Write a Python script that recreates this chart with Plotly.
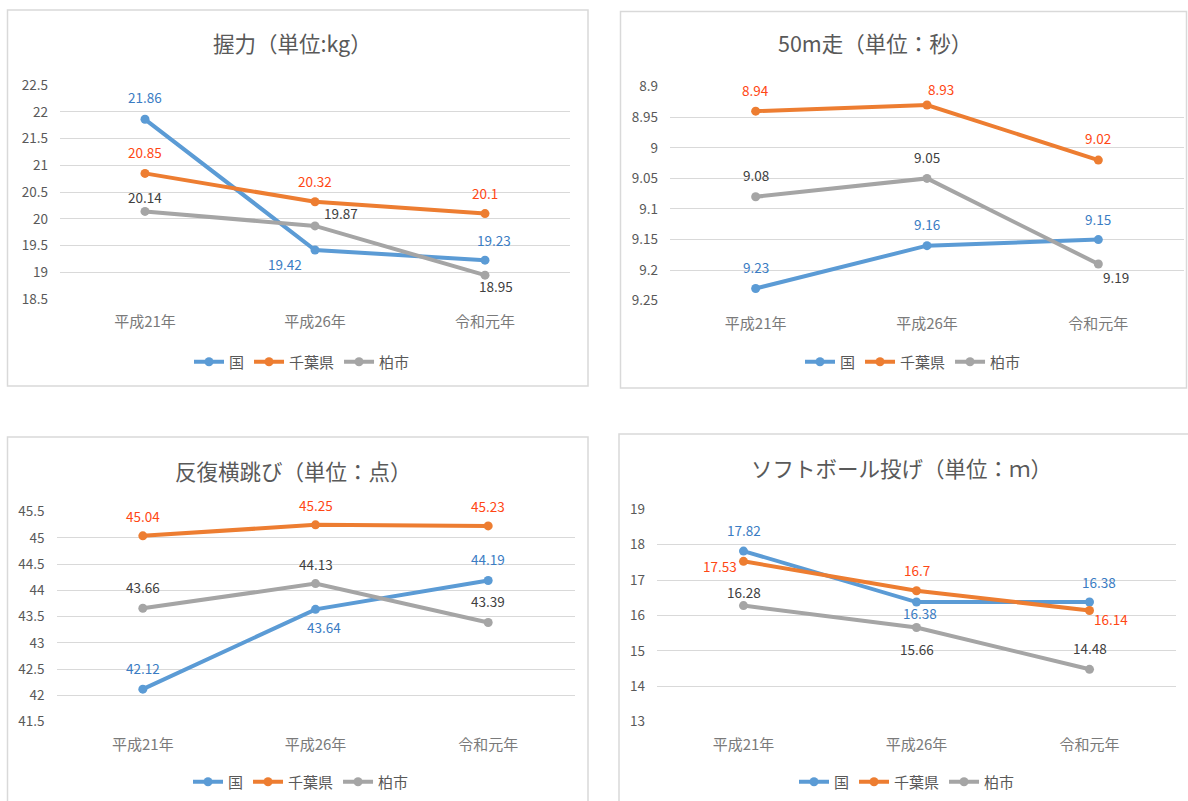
import plotly.graph_objects as go

# ---- data -------------------------------------------------------------
categories = ["平成21年", "平成26年", "令和元年"]
series_names = ["国", "千葉県", "柏市"]

grip_kuni = [21.86, 19.42, 19.23]
grip_chiba = [20.85, 20.32, 20.1]
grip_kashiwa = [20.14, 19.87, 18.95]

run_kuni = [9.23, 9.16, 9.15]
run_chiba = [8.94, 8.93, 9.02]
run_kashiwa = [9.08, 9.05, 9.19]

jump_kuni = [42.12, 43.64, 44.19]
jump_chiba = [45.04, 45.25, 45.23]
jump_kashiwa = [43.66, 44.13, 43.39]

throw_kuni = [17.82, 16.38, 16.38]
throw_chiba = [17.53, 16.7, 16.14]
throw_kashiwa = [16.28, 15.66, 14.48]

grip_ticks = [18.5, 19, 19.5, 20, 20.5, 21, 21.5, 22, 22.5]
run_ticks = [8.9, 8.95, 9, 9.05, 9.1, 9.15, 9.2, 9.25]
jump_ticks = [41.5, 42, 42.5, 43, 43.5, 44, 44.5, 45, 45.5]
throw_ticks = [13, 14, 15, 16, 17, 18, 19]

titles = ["握力（単位:kg）", "50m走（単位：秒）", "反復横跳び（単位：点）", "ソフトボール投げ（単位：ｍ）"]

# ---- styling ----------------------------------------------------------
W, H = 1188, 801
FONT = "Noto Sans CJK JP"
line_colors = ["#5B9BD5", "#ED7D31", "#A5A5A5"]
label_colors = ["#3A7CC3", "#FF4714", "#404040"]
GRID = "#D9D9D9"


def px_x(v):
    return v / W


def px_y(v):
    return 1 - v / H


# per panel: plot box in pixels (left, right, top, bottom), title centre, legend centre, frame
panels = [
    dict(values=[grip_kuni, grip_chiba, grip_kashiwa], ticks=grip_ticks, rev=False,
         box=(60, 570, 85, 299.3), title=(292, 42), legend=(302, 362), frame=(7.5, 588, 10, 386),
         offsets=[[(0, 22), (-30, -14), (9, 20)],
                  [(0, 21), (0, 21), (0, 21)],
                  [(0, 14), (26, 13), (11, -11)]]),
    dict(values=[run_kuni, run_chiba, run_kashiwa], ticks=run_ticks, rev=True,
         box=(670, 1184, 86.7, 300.7), title=(875, 42), legend=(913, 362), frame=(620.5, 1186.5, 11.5, 388),
         offsets=[[(0, 21.5), (0, 21.5), (0, 21)],
                  [(0, 21.5), (14, 16), (0, 22)],
                  [(0, 21.5), (0, 21.5), (18, -13)]]),
    dict(values=[jump_kuni, jump_chiba, jump_kashiwa], ticks=jump_ticks, rev=False,
         box=(56.5, 574.5, 511.7, 721.7), title=(293, 470), legend=(301, 782), frame=(7.5, 588, 437, 806),
         offsets=[[(0, 21), (8, -18), (0, 21)],
                  [(0, 20), (0, 20), (0, 20)],
                  [(0, 21), (0, 20), (0, 21)]]),
    dict(values=[throw_kuni, throw_chiba, throw_kashiwa], ticks=throw_ticks, rev=False,
         box=(657, 1176, 509.3, 721.7), title=(901, 467), legend=(907, 782), frame=(619, 1192, 434, 806),
         offsets=[[(0, 21), (3, -11), (9, 20)],
                  [(-24, -5), (0, 21), (21, -8)],
                  [(0, 13.5), (0, -21), (0, 21)]]),
]

fig = go.Figure()
layout = dict(
    width=W, height=H, autosize=False,
    margin=dict(l=0, r=0, t=0, b=0, pad=0, autoexpand=False),
    paper_bgcolor="white", plot_bgcolor="white",
    font=dict(family=FONT, color="#595959", size=13),
)
annotations = []
shapes = []

for i, p in enumerate(panels):
    n = "" if i == 0 else str(i + 1)
    xa, ya = "x" + n, "y" + n
    leg = "legend" + n
    left, right, top, bottom = p["box"]
    ticks = p["ticks"]

    layout["xaxis" + n] = dict(
        domain=[px_x(left), px_x(right)], anchor=ya, type="category",
        range=[-0.5, 2.5], showgrid=False, zeroline=False, showline=False,
        ticks="", tickfont=dict(size=15, color="#7A7A7A"), ticklabelstandoff=12,
        automargin=False, fixedrange=True,
    )
    lo, hi = min(ticks), max(ticks)
    layout["yaxis" + n] = dict(
        domain=[px_y(bottom), px_y(top)], anchor=xa,
        range=[hi, lo] if p["rev"] else [lo, hi],
        tickvals=ticks, ticktext=[f"{t:g}" for t in ticks],
        showgrid=True, gridcolor=GRID, gridwidth=1.3, zeroline=False,
        showline=False, ticks="", tickfont=dict(size=13.5, color="#595959"),
        ticklabelstandoff=11, automargin=False, fixedrange=True,
    )

    for s, vals in enumerate(p["values"]):
        fig.add_trace(go.Scatter(
            x=categories, y=vals, name=series_names[s], mode="lines+markers",
            line=dict(color=line_colors[s], width=4),
            marker=dict(color=line_colors[s], size=9),
            xaxis=xa, yaxis=ya, legend=leg, hoverinfo="skip",
        ))
        for k, v in enumerate(vals):
            dx, dy = p["offsets"][s][k]
            annotations.append(dict(
                x=categories[k], y=v, xref=xa, yref=ya, text=f"{v:g}",
                showarrow=False, xshift=dx, yshift=dy,
                font=dict(size=13.5, color=label_colors[s], family=FONT),
                xanchor="center", yanchor="middle",
            ))

    tx, ty = p["title"]
    annotations.append(dict(
        x=px_x(tx), y=px_y(ty), xref="paper", yref="paper", text=titles[i],
        showarrow=False, xanchor="center", yanchor="middle",
        font=dict(size=21.5, color="#595959", family=FONT),
    ))

    lx, ly = p["legend"]
    layout[leg] = dict(
        orientation="h", xref="container", yref="container",
        x=px_x(lx), y=px_y(ly), xanchor="center", yanchor="middle",
        font=dict(size=15, color="#595959", family=FONT), bgcolor="rgba(0,0,0,0)",
        itemclick=False, itemdoubleclick=False, tracegroupgap=0,
    )

    fl, fr, ft, fb = p["frame"]
    shapes.append(dict(
        type="rect", xref="paper", yref="paper",
        x0=px_x(fl), x1=px_x(fr), y0=px_y(fb), y1=px_y(ft),
        line=dict(color=GRID, width=1.5), fillcolor="rgba(0,0,0,0)", layer="below",
    ))

layout["annotations"] = annotations
layout["shapes"] = shapes
fig.update_layout(**layout)

fig.write_html("out.html", config=dict(displayModeBar=False))
